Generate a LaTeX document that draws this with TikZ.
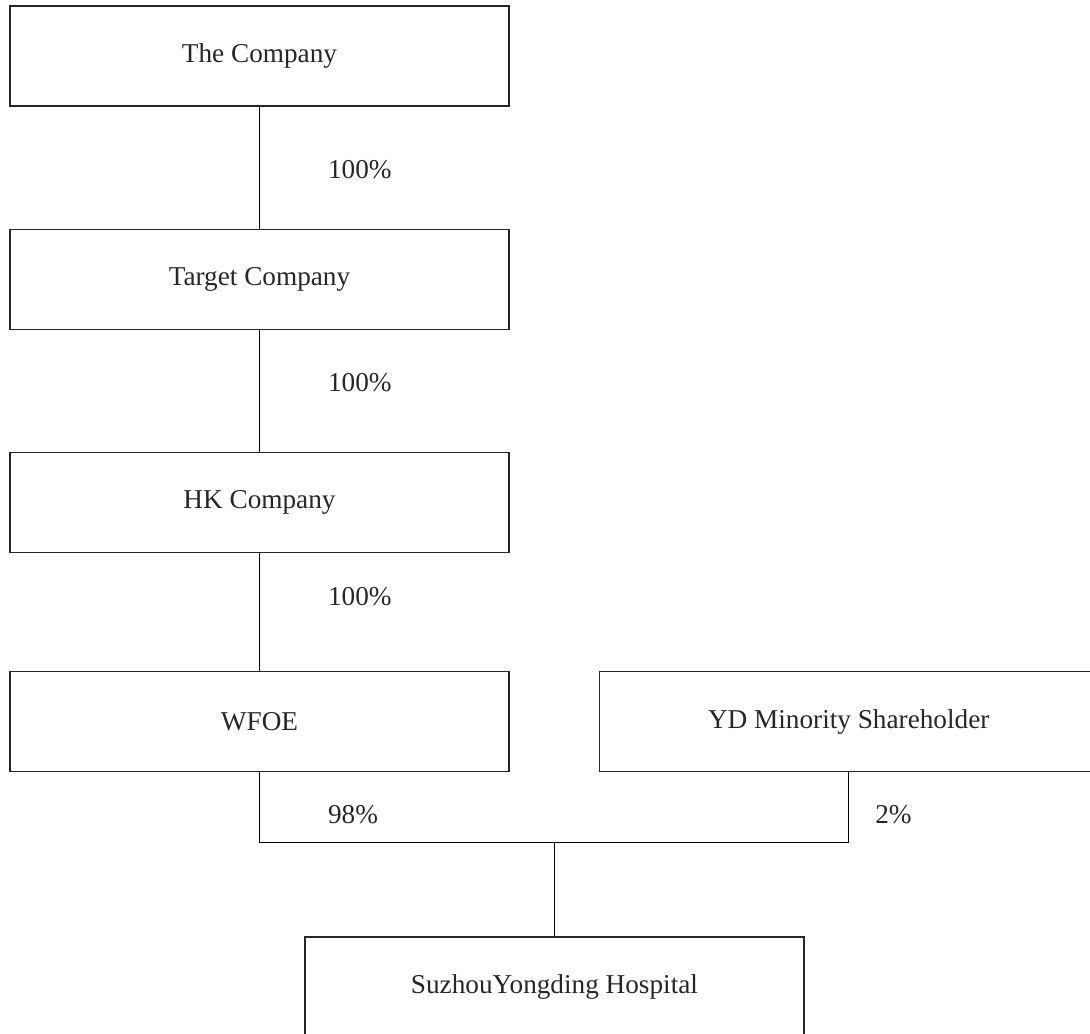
\documentclass[tikz,border=0pt]{standalone}
\usepackage{fontspec}
\setmainfont{Liberation Serif}
\usetikzlibrary{positioning}

\begin{document}
\begin{tikzpicture}[
    line width=0.6pt,
    node distance=2.44cm,
    block/.style={draw=black!85, line width=0.7pt, rectangle, minimum height=2cm, minimum width=9.98cm, align=center, text=black!85, font=\fontsize{15.5}{18}\selectfont},
    pct/.style={anchor=west, inner sep=0pt, text=black!85, font=\fontsize{15.5}{18}\selectfont}
]
    \useasboundingbox (0,0) rectangle (21.8,-20.66);

    % Ownership chain
    \node[block] (company) at (5.19,-1.12) {The Company};
    \node[block, below=of company] (target) {Target Company};
    \node[block, below=of target] (hk) {HK Company};
    \node[block, below=2.36cm of hk] (wfoe) {WFOE};
    \node[block, right=1.78cm of wfoe] (minority) {YD Minority Shareholder};
    \node[block] (hospital) at (11.09,-19.74) {SuzhouYongding Hospital};

    % 100% links
    \foreach \up/\down/\p in {company/target/0.52, target/hk/0.43, hk/wfoe/0.37} {
        \draw (\up) -- node[pct, pos=\p, xshift=1.36cm] {100\%} (\down);
    }

    % Shareholders of the hospital
    \path (wfoe.south) ++(0,-1.4) coordinate (bend);
    \draw (wfoe.south) -- (bend) -| (minority.south);
    \draw (hospital.north) -- (hospital.north |- bend);
    \node[pct] at ([xshift=1.36cm, yshift=-0.84cm]wfoe.south) (wfoepct) {98\%};
    \node[pct] at ([xshift=0.52cm, yshift=-0.84cm]minority.south) (minoritypct) {2\%};

\end{tikzpicture}
\end{document}
